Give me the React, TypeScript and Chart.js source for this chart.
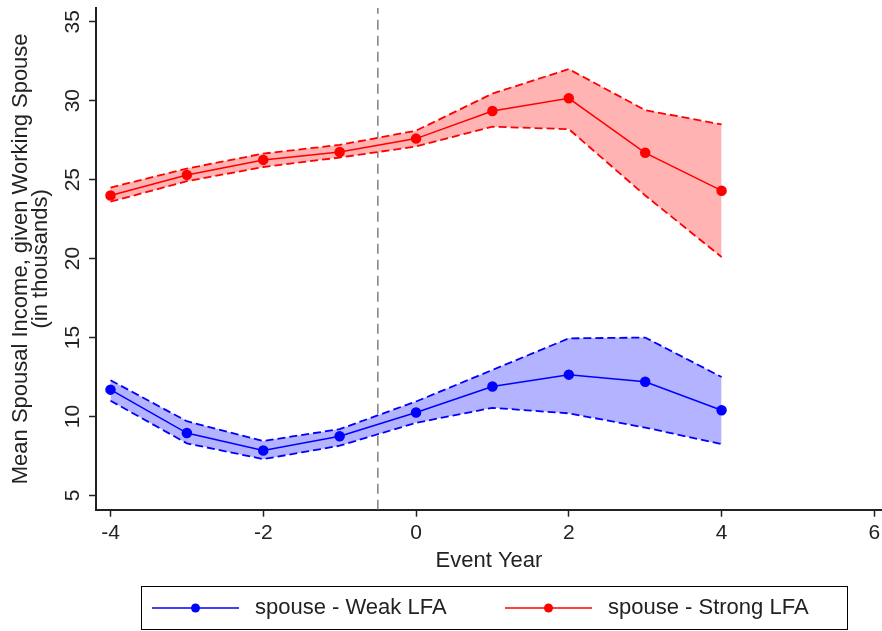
import React, { useEffect, useRef } from "react";
import { Chart, registerables } from "chart.js";

Chart.register(...registerables);

// ---------- data ----------
const YEARS = [-4, -3, -2, -1, 0, 1, 2, 3, 4];

const WEAK_MEAN = [11.7, 8.95, 7.85, 8.75, 10.25, 11.9, 12.65, 12.2, 10.4];
const WEAK_UPPER = [12.3, 9.7, 8.45, 9.2, 10.95, 12.95, 14.95, 15.0, 12.5];
const WEAK_LOWER = [11.0, 8.3, 7.3, 8.15, 9.6, 10.55, 10.2, 9.3, 8.25];

const STRONG_MEAN = [24.0, 25.3, 26.25, 26.75, 27.6, 29.35, 30.15, 26.7, 24.3];
const STRONG_UPPER = [24.5, 25.7, 26.65, 27.2, 28.1, 30.45, 32.0, 29.4, 28.5];
const STRONG_LOWER = [23.6, 24.9, 25.8, 26.4, 27.1, 28.35, 28.2, 24.0, 20.1];

const X_TICKS = [-4, -2, 0, 2, 4, 6];
const Y_TICKS = [5, 10, 15, 20, 25, 30, 35];
const X_RANGE = [-4.19, 6.1];
const Y_RANGE = [4.1, 35.87];
const EVENT_LINE_X = -0.5;

const X_TITLE = "Event Year";
const Y_TITLE = ["Mean Spousal Income, given Working Spouse", "(in thousands)"];
const WEAK_LABEL = "spouse - Weak LFA";
const STRONG_LABEL = "spouse - Strong LFA";

// ---------- styles ----------
const FONT = "'Liberation Sans', Arial, Helvetica, sans-serif";
const TEXT = "#222";
const BLUE = "#0000ff";
const RED = "#ff0000";
const BLUE_FILL = "#b3b3ff";
const RED_FILL = "#ffb3b3";

const pts = (ys: number[]) => YEARS.map((x, i) => ({ x, y: ys[i] }));

const boxLegend = {
  id: "boxLegend",
  afterDraw(chart: any) {
    const ctx = chart.ctx as CanvasRenderingContext2D;
    const ds = [chart.data.datasets[0], chart.data.datasets[1]];
    const box = { l: 141, t: 586, r: 847, b: 629 };
    ctx.save();
    ctx.strokeStyle = "#000";
    ctx.lineWidth = 1;
    ctx.strokeRect(box.l + 0.5, box.t + 0.5, box.r - box.l, box.b - box.t);
    const cy = 608;
    const slots = [
      { x1: 152, x2: 239, tx: 255 },
      { x1: 505, x2: 592, tx: 608 },
    ];
    ds.forEach((d: any, i: number) => {
      const s = slots[i];
      ctx.strokeStyle = d.borderColor;
      ctx.lineWidth = 1.5;
      ctx.beginPath();
      ctx.moveTo(s.x1, cy);
      ctx.lineTo(s.x2, cy);
      ctx.stroke();
      ctx.fillStyle = d.borderColor;
      ctx.beginPath();
      ctx.arc((s.x1 + s.x2) / 2, cy, 4.5, 0, Math.PI * 2);
      ctx.fill();
      ctx.fillStyle = TEXT;
      ctx.font = `22px ${FONT}`;
      ctx.textBaseline = "middle";
      ctx.textAlign = "left";
      ctx.fillText(d.label, s.tx, cy);
    });
    ctx.restore();
  },
};

export default function App() {
  const ref = useRef<HTMLCanvasElement | null>(null);

  useEffect(() => {
    document.body.style.margin = "0";
    const canvas = ref.current;
    if (!canvas) return;

    const meanStyle = (color: string) => ({
      borderColor: color,
      backgroundColor: color,
      pointBackgroundColor: color,
      pointBorderColor: color,
      pointRadius: 4.5,
      pointStyle: "circle",
      borderWidth: 1.5,
      fill: false,
      tension: 0,
      order: 0,
    });
    const ciStyle = (color: string) => ({
      borderColor: color,
      borderWidth: 1.8,
      borderDash: [8, 4],
      pointRadius: 0,
      tension: 0,
      order: 2,
    });

    const chart = new Chart(canvas, {
      type: "line",
      data: {
        datasets: [
          { label: WEAK_LABEL, data: pts(WEAK_MEAN), ...meanStyle(BLUE) },
          { label: STRONG_LABEL, data: pts(STRONG_MEAN), ...meanStyle(RED) },
          { label: "weak lower", data: pts(WEAK_LOWER), ...ciStyle(BLUE), fill: false },
          { label: "weak upper", data: pts(WEAK_UPPER), ...ciStyle(BLUE), fill: "-1", backgroundColor: BLUE_FILL },
          { label: "strong lower", data: pts(STRONG_LOWER), ...ciStyle(RED), fill: false },
          { label: "strong upper", data: pts(STRONG_UPPER), ...ciStyle(RED), fill: "-1", backgroundColor: RED_FILL },
          {
            label: "event",
            data: [
              { x: EVENT_LINE_X, y: Y_RANGE[0] },
              { x: EVENT_LINE_X, y: Y_RANGE[1] },
            ],
            borderColor: "#808080",
            borderWidth: 1.5,
            borderDash: [10, 6],
            pointRadius: 0,
            fill: false,
            order: 3,
          },
        ] as any,
      },
      options: {
        responsive: false,
        animation: false,
        layout: { autoPadding: false, padding: { left: 0, top: 8, right: 0, bottom: 59.3 } },
        plugins: {
          legend: { display: false },
          tooltip: { enabled: false },
        },
        scales: {
          x: {
            type: "linear",
            min: X_RANGE[0],
            max: X_RANGE[1],
            afterBuildTicks: (s: any) => {
              s.ticks = X_TICKS.map((v) => ({ value: v }));
            },
            afterFit: (s: any) => {
              s.paddingLeft = 0;
              s.paddingRight = 0;
            },
            grid: {
              display: true,
              drawOnChartArea: false,
              drawTicks: true,
              tickLength: 7,
              tickWidth: 1.5,
              tickColor: TEXT,
            },
            border: { display: true, color: TEXT, width: 2 },
            ticks: {
              color: TEXT,
              font: { family: FONT, size: 21, lineHeight: 0.43 },
              padding: 12,
              minRotation: 0,
              maxRotation: 0,
              autoSkip: false,
            },
            title: {
              display: true,
              text: X_TITLE,
              color: TEXT,
              font: { family: FONT, size: 22, lineHeight: 1 },
              padding: { top: 0, bottom: 0 },
            },
          },
          y: {
            type: "linear",
            min: Y_RANGE[0],
            max: Y_RANGE[1],
            afterBuildTicks: (s: any) => {
              s.ticks = Y_TICKS.map((v) => ({ value: v }));
            },
            afterFit: (s: any) => {
              s.paddingTop = 0;
              s.paddingBottom = 0;
            },
            grid: {
              display: true,
              drawOnChartArea: false,
              drawTicks: true,
              tickLength: 7,
              tickWidth: 1.5,
              tickColor: TEXT,
            },
            border: { display: true, color: TEXT, width: 2 },
            ticks: {
              color: TEXT,
              font: { family: FONT, size: 21, lineHeight: 1 },
              padding: 4,
              minRotation: 90,
              maxRotation: 90,
              crossAlign: "center",
              autoSkip: false,
            },
            title: {
              display: true,
              text: Y_TITLE,
              color: TEXT,
              font: { family: FONT, size: 22, lineHeight: 0.92 },
              padding: { top: 10.4, bottom: 9.1 },
            },
          },
        },
      } as any,
      plugins: [boxLegend],
    });

    return () => chart.destroy();
  }, []);

  return (
    <canvas
      ref={ref}
      width={882}
      height={631}
      style={{ display: "block", width: 882, height: 631 }}
    />
  );
}
